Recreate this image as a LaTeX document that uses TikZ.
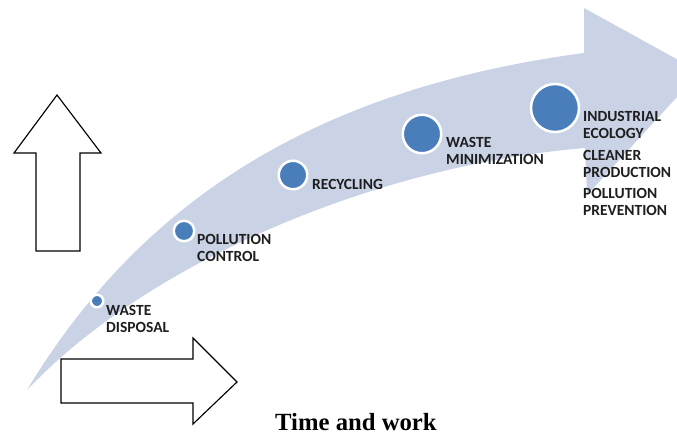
\documentclass[tikz,border=0pt]{standalone}
\usepackage{fontspec}
\setmainfont{Liberation Serif}
\newfontfamily\lblfont{Carlito}
\usetikzlibrary{positioning}

\definecolor{bandblue}{RGB}{201,211,229}
\definecolor{dotblue}{RGB}{74,126,187}
\definecolor{lbltext}{RGB}{30,30,30}

\tikzset{
  stage/.style={circle, fill=dotblue, draw=white, line width=2.5pt, inner sep=0pt, minimum size=#1},
  lbl/.style={anchor=north west, inner sep=0pt, align=left, text=lbltext, font=\lblfont\bfseries\fontsize{15.5}{17}\selectfont},
  hollow/.style={draw=black, line width=1.15pt, fill=white, line join=miter}
}

\begin{document}
\begin{tikzpicture}[x=1pt, y=-1pt]
\useasboundingbox (0,0) rectangle (677,436);

\begin{scope}
\clip (0,0) rectangle (677,436);
\fill[bandblue] (27,390) .. controls (144,196) and (322,88) .. (584,53) -- (584,8) -- (700,72) -- (587,195) -- (585,148) .. controls (380,165) and (150,260) .. (27,390) -- cycle;
\end{scope}

\draw[hollow] (36,251) -- (36,153) -- (14,153) -- (57,95) -- (101,153) -- (80,153) -- (80,251) -- cycle;
\draw[hollow] (61,359) -- (193,359) -- (193,338) -- (237,382) -- (193,424) -- (193,403) -- (61,403) -- cycle;

\node[stage=12.5pt] (disposal) at (97,301) {};
\node[stage=20.5pt] (control) at (184,231) {};
\node[stage=28.5pt] (recycling) at (293,175) {};
\node[stage=38.5pt] (minimization) at (422,134) {};
\node[stage=48pt] (ecology) at (555,108) {};

\node[lbl] (disposaltxt) at (106,305) {WASTE\\DISPOSAL};
\node[lbl] (controltxt) at (197,234) {POLLUTION\\CONTROL};
\node[lbl] (recyclingtxt) at (312,179) {RECYCLING};
\node[lbl] (minimizationtxt) at (446,137) {WASTE\\MINIMIZATION};
\node[lbl] (ecologytxt) at (583,111) {INDUSTRIAL\\ECOLOGY};
\node[lbl, below=11pt of ecologytxt.south west, anchor=north west] (cleanertxt) {CLEANER\\PRODUCTION};
\node[lbl, below=11pt of cleanertxt.south west, anchor=north west] (preventiontxt) {POLLUTION\\PREVENTION};

\node[anchor=base west, inner sep=0pt, font=\bfseries\fontsize{24.7}{28}\selectfont] (timework) at (275,430) {Time and work};
\end{tikzpicture}
\end{document}
